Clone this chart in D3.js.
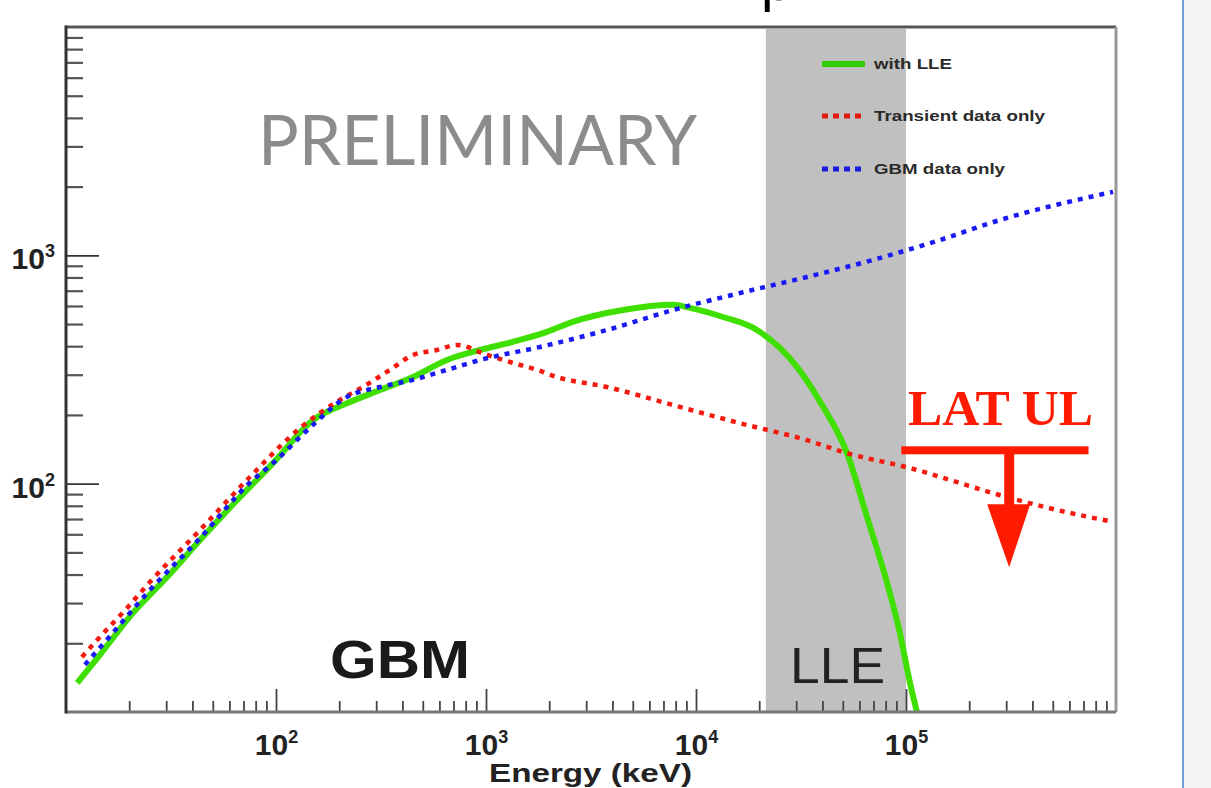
<!DOCTYPE html>
<html>
<head>
<meta charset="utf-8">
<script src="https://cdn.jsdelivr.net/npm/d3@7"></script>
<style>
  body { margin: 0; background: #fff; }
  svg { display: block; }
</style>
</head>
<body>
<script>
// values (energy in keV)
var lleEnergy = [11.3, 14.5, 20.8, 30.3, 43.5, 67.4, 96.8, 150, 218, 313, 449, 652, 936, 1345, 1950, 2590, 4490, 7770, 9350, 13450, 19500, 30300, 40300, 52400, 65200, 81300, 93500, 104500, 112700];
var lleFlux   = [13.4, 17.8, 27.1, 39.0, 56.7, 87.4, 123, 190, 225, 257, 293, 348, 385, 418, 462, 511, 576, 607, 589, 537, 471, 324, 217, 136, 71.5, 36.7, 22.2, 13.4, 10];

var transientEnergy = [11.9, 14.5, 19.5, 25.1, 43.5, 75.1, 130, 202, 259, 349, 449, 585, 728, 1012, 1345, 1750, 2180, 3770, 7770, 16200, 33800, 52400, 101000, 281000, 485000, 968000];
var transientFlux   = [17.4, 21.3, 28.5, 37.1, 62.7, 107, 175, 233, 265, 315, 366, 385, 405, 366, 338, 315, 293, 265, 221, 184, 155, 136, 118, 89, 78, 68];

var gbmEnergy = [12.3, 16.2, 25.1, 43.5, 75.1, 96.8, 150, 218, 313, 449, 652, 936, 1807, 3770, 7770, 16200, 33800, 69700, 145000, 281000, 968000];
var gbmFlux   = [16.1, 21.5, 34.2, 57.8, 101, 123, 181, 240, 265, 285, 315, 348, 397, 471, 576, 684, 804, 955, 1167, 1429, 1897];

var lleBand = [21500, 100000];
var latUlEnergy = [95000, 740000];
var latUlCenter = 310000;
var latUlFlux = 140;

var xTickLabels = [1e2, 1e3, 1e4, 1e5];
var yTickLabels = [1e2, 1e3];
var legendNames = ["with LLE", "Transient data only", "GBM data only"];

var W = 1211, H = 788;
var pad = {left: 66, right: 1116, top: 27, bottom: 712};
var labelFont = "Liberation Sans, Arial, sans-serif";

var x = d3.scaleLog().domain([10, 1e6]).range([pad.left, pad.right]);
var y = d3.scaleLog().domain([10, 1e4]).range([pad.bottom, pad.top]);

var svg = d3.select("body").append("svg")
    .attr("width", W)
    .attr("height", H);

// slide edge on the right
svg.append("rect").attr("x", 1184).attr("y", 0).attr("width", W - 1184).attr("height", H).attr("fill", "#f4f4f4");
svg.append("line").attr("x1", 1183).attr("x2", 1183).attr("y1", 0).attr("y2", H)
    .attr("stroke", "#6f9fd8").attr("stroke-width", 2);

// bit of the title above, cut off by the top edge
svg.append("text")
    .attr("x", 761).attr("y", 0)
    .attr("font-family", labelFont)
    .attr("font-size", 56)
    .attr("fill", "#000")
    .text("p");

svg.append("defs").append("clipPath").attr("id", "plotclip")
    .append("rect")
    .attr("x", pad.left).attr("y", pad.top)
    .attr("width", pad.right - pad.left).attr("height", pad.bottom - pad.top);

// LLE band
svg.append("rect")
    .attr("x", x(lleBand[0]))
    .attr("y", pad.top + 2)
    .attr("width", x(lleBand[1]) - x(lleBand[0]))
    .attr("height", pad.bottom - pad.top - 2)
    .attr("fill", "#c0c0c0");

// labels inside the plot
svg.append("text")
    .attr("x", 258).attr("y", 165)
    .attr("font-family", "Lato, 'Open Sans', sans-serif")
    .attr("font-size", 70)
    .attr("fill", "#8c8c8c")
    .attr("textLength", 439)
    .attr("lengthAdjust", "spacingAndGlyphs")
    .text("PRELIMINARY");

svg.append("text")
    .attr("x", 330).attr("y", 678)
    .attr("font-family", labelFont)
    .attr("font-size", 54)
    .attr("font-weight", "bold")
    .attr("fill", "#1a1a1a")
    .attr("textLength", 140)
    .attr("lengthAdjust", "spacingAndGlyphs")
    .text("GBM");

svg.append("text")
    .attr("x", 790).attr("y", 683)
    .attr("font-family", labelFont)
    .attr("font-size", 50)
    .attr("fill", "#222")
    .attr("textLength", 95)
    .attr("lengthAdjust", "spacingAndGlyphs")
    .text("LLE");

// curves
function toPoints(es, vs) {
    return es.map(function(e, i) { return {e: e, v: vs[i]}; });
}
var line = d3.line()
    .x(function(d) { return x(d.e); })
    .y(function(d) { return y(d.v); })
    .curve(d3.curveMonotoneX);

var curves = svg.append("g").attr("clip-path", "url(#plotclip)");

curves.append("path")
    .datum(toPoints(lleEnergy, lleFlux))
    .attr("d", line)
    .attr("fill", "none")
    .attr("stroke", "#3fe000")
    .attr("stroke-width", 6);

curves.append("path")
    .datum(toPoints(transientEnergy, transientFlux))
    .attr("d", line)
    .attr("fill", "none")
    .attr("stroke", "#f41a10")
    .attr("stroke-width", 4.5)
    .attr("stroke-dasharray", "5,6");

curves.append("path")
    .datum(toPoints(gbmEnergy, gbmFlux))
    .attr("d", line)
    .attr("fill", "none")
    .attr("stroke", "#1a1af5")
    .attr("stroke-width", 4.5)
    .attr("stroke-dasharray", "5,6");

// LAT upper limit
var ulColor = "#ff1a00";
var ulY = y(latUlFlux);
var ulX = x(latUlCenter);
svg.append("rect")
    .attr("x", x(latUlEnergy[0])).attr("y", ulY - 4)
    .attr("width", x(latUlEnergy[1]) - x(latUlEnergy[0])).attr("height", 8)
    .attr("fill", ulColor);
svg.append("rect")
    .attr("x", ulX - 5).attr("y", ulY)
    .attr("width", 10).attr("height", 56)
    .attr("fill", ulColor);
svg.append("path")
    .attr("d", "M" + (ulX - 22) + "," + (ulY + 54) + " L" + (ulX + 21) + "," + (ulY + 54) + " L" + ulX + "," + (ulY + 117) + " Z")
    .attr("fill", ulColor);
svg.append("text")
    .attr("x", 908).attr("y", 425)
    .attr("font-family", "Liberation Serif, 'Times New Roman', serif")
    .attr("font-size", 50)
    .attr("font-weight", "bold")
    .attr("fill", ulColor)
    .attr("textLength", 185)
    .attr("lengthAdjust", "spacingAndGlyphs")
    .text("LAT UL");

// legend
var legend = svg.append("g").attr("font-family", labelFont)
    .attr("font-size", 14).attr("font-weight", "bold").attr("fill", "#2a2a2a");
var legendY = [64, 116, 169];
var legendW = [78, 171, 131];
legend.append("line").attr("x1", 822).attr("x2", 865).attr("y1", legendY[0]).attr("y2", legendY[0])
    .attr("stroke", "#33cc00").attr("stroke-width", 6);
legend.append("line").attr("x1", 822).attr("x2", 864).attr("y1", legendY[1]).attr("y2", legendY[1])
    .attr("stroke", "#e01a10").attr("stroke-width", 5).attr("stroke-dasharray", "6,5");
legend.append("line").attr("x1", 822).attr("x2", 864).attr("y1", legendY[2]).attr("y2", legendY[2])
    .attr("stroke", "#1a1ae0").attr("stroke-width", 5).attr("stroke-dasharray", "6,5");
legendNames.forEach(function(name, i) {
    legend.append("text")
        .attr("x", 874).attr("y", legendY[i] + 5)
        .attr("textLength", legendW[i])
        .attr("lengthAdjust", "spacingAndGlyphs")
        .text(name);
});

// axes, ticks point inwards
function isDecade(v) { return Math.abs(Math.log10(v) - Math.round(Math.log10(v))) < 1e-9; }
function powerLabel(sel) {
    sel.attr("font-family", labelFont).attr("font-weight", "bold");
    sel.selectAll(".tick text").each(function(d) {
        var t = d3.select(this);
        t.attr("fill", "#222").attr("font-size", 30).text("10");
        t.append("tspan").attr("dy", -12).attr("font-size", 18).text(Math.round(Math.log10(d)));
    });
}

var xMinor = x.ticks().filter(function(v) { return !isDecade(v); });
var yMinor = y.ticks().filter(function(v) { return !isDecade(v); });

svg.append("g")
    .attr("transform", "translate(0," + pad.bottom + ")")
    .call(d3.axisBottom(x).tickValues(xMinor).tickSize(-11).tickFormat(""))
    .call(function(g) { g.select(".domain").remove(); })
    .selectAll(".tick line").attr("stroke", "#444").attr("stroke-width", 1.8);

svg.append("g")
    .attr("transform", "translate(0," + pad.bottom + ")")
    .call(d3.axisBottom(x).tickValues(xTickLabels).tickSize(-23).tickPadding(22).tickFormat(""))
    .call(function(g) { g.select(".domain").remove(); })
    .call(function(g) { g.selectAll(".tick line").attr("stroke", "#444").attr("stroke-width", 1.8); })
    .call(powerLabel);

svg.append("g")
    .attr("transform", "translate(" + pad.left + ",0)")
    .call(d3.axisLeft(y).tickValues(yMinor).tickSize(-17).tickFormat(""))
    .call(function(g) { g.select(".domain").remove(); })
    .selectAll(".tick line").attr("stroke", "#555").attr("stroke-width", 2.2);

svg.append("g")
    .attr("transform", "translate(" + pad.left + ",0)")
    .call(d3.axisLeft(y).tickValues(yTickLabels).tickSize(-33).tickPadding(11).tickFormat(""))
    .call(function(g) { g.select(".domain").remove(); })
    .call(function(g) { g.selectAll(".tick line").attr("stroke", "#333").attr("stroke-width", 1.8); })
    .call(powerLabel)
    .call(function(g) { g.selectAll(".tick text").attr("dy", "0.45em"); });

// frame
svg.append("line").attr("x1", pad.left).attr("x2", pad.right).attr("y1", pad.top).attr("y2", pad.top)
    .attr("stroke", "#555").attr("stroke-width", 3);
svg.append("line").attr("x1", pad.right).attr("x2", pad.right).attr("y1", pad.top).attr("y2", pad.bottom)
    .attr("stroke", "#999").attr("stroke-width", 3);
svg.append("line").attr("x1", pad.left).attr("x2", pad.right).attr("y1", pad.bottom).attr("y2", pad.bottom)
    .attr("stroke", "#777").attr("stroke-width", 3);
svg.append("line").attr("x1", pad.left).attr("x2", pad.left).attr("y1", pad.top - 1.5).attr("y2", pad.bottom + 1.5)
    .attr("stroke", "#333").attr("stroke-width", 3);

// axis title
svg.append("text")
    .attr("x", 489).attr("y", 782)
    .attr("font-family", labelFont)
    .attr("font-size", 25)
    .attr("font-weight", "bold")
    .attr("fill", "#222")
    .attr("textLength", 203)
    .attr("lengthAdjust", "spacingAndGlyphs")
    .text("Energy (keV)");
</script>
</body>
</html>
